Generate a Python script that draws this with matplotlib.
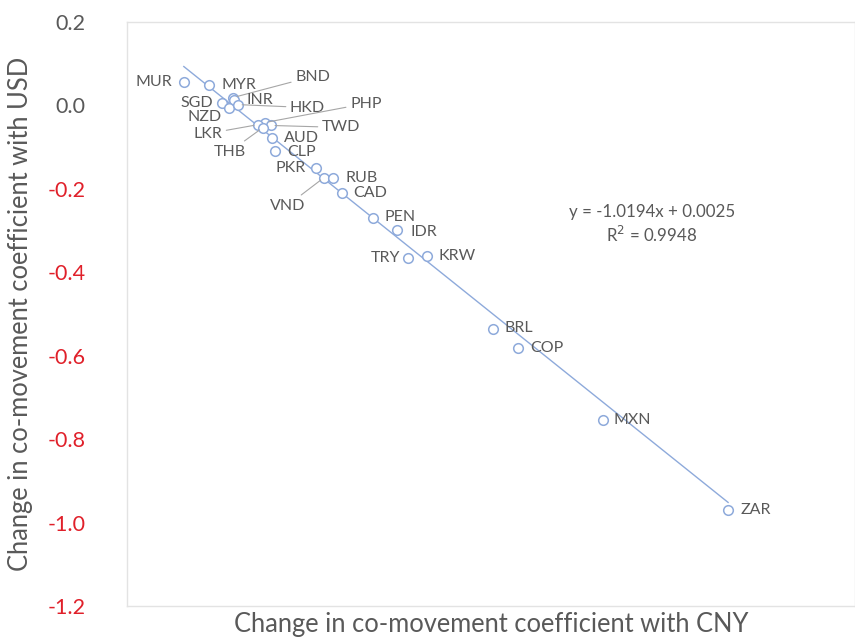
import matplotlib
matplotlib.use("Agg")
import matplotlib.pyplot as plt
import numpy as np

# Currency codes and their co-movement changes (CNY on x, USD on y)
currencies = ["MUR", "MYR", "BND", "SGD", "INR", "NZD", "HKD", "PHP", "TWD", "LKR",
              "THB", "AUD", "CLP", "PKR", "VND", "RUB", "CAD", "PEN", "IDR", "TRY",
              "KRW", "BRL", "COP", "MXN", "ZAR"]
chg_cny = [-0.089, -0.041, 0.004, -0.017, 0.006, -0.004, 0.013, 0.064, 0.075, 0.051,
           0.060, 0.077, 0.083, 0.160, 0.175, 0.192, 0.209, 0.267, 0.313, 0.333,
           0.369, 0.493, 0.540, 0.701, 0.936]
chg_usd = [0.055, 0.050, 0.019, 0.005, 0.012, -0.005, 0.002, -0.041, -0.048, -0.046,
           -0.053, -0.079, -0.110, -0.151, -0.173, -0.173, -0.211, -0.271, -0.298, -0.365,
           -0.360, -0.535, -0.581, -0.754, -0.970]

# Linear trend reported on the chart
slope = -1.0194
intercept = 0.0025
r_squared = 0.9948

y_ticks = [0.2, 0.0, -0.2, -0.4, -0.6, -0.8, -1.0, -1.2]

# Label placement: (dx, dy) offset in pixels, horizontal alignment, leader line
label_layout = {
    "MUR": (-12, 0, "right", False),
    "MYR": (12, 0, "left", False),
    "BND": (62, 21, "left", True),
    "SGD": (-9, 0, "right", False),
    "INR": (12, 0, "left", False),
    "NZD": (-7, -9, "right", False),
    "HKD": (52, -3, "left", True),
    "PHP": (85, 19, "left", True),
    "TWD": (51, -2, "left", True),
    "LKR": (-36, -9, "right", True),
    "THB": (-17, -24, "right", True),
    "AUD": (12, 0, "left", False),
    "CLP": (12, -1, "left", False),
    "PKR": (-10, 0, "right", False),
    "VND": (-19, -28, "right", True),
    "RUB": (12, 0, "left", False),
    "CAD": (11, 0, "left", False),
    "PEN": (12, 1, "left", False),
    "IDR": (13, -2, "left", False),
    "TRY": (-8, 0, "right", False),
    "KRW": (11, 0, "left", False),
    "BRL": (12, 1, "left", False),
    "COP": (12, 0, "left", False),
    "MXN": (10, 0, "left", False),
    "ZAR": (12, 0, "left", False),
}

FONT = "Lato"
GRAY = "#595959"
RED = "#e0202a"
BLUE = "#8eaadb"

fig = plt.figure(figsize=(8.55, 6.41), dpi=100)
ax = fig.add_axes([127 / 855, 35 / 641, 728 / 855, 584 / 641])

ax.set_xlim(-0.196, 1.175)
ax.set_ylim(-1.2, 0.2)

# Trend line over the data range
xs = np.array([min(chg_cny), max(chg_cny)])
ax.plot(xs, slope * xs + intercept, color=BLUE, lw=1.0, zorder=2)

ax.scatter(chg_cny, chg_usd, s=48, facecolors="white", edgecolors=BLUE,
           linewidths=1.1, zorder=3)

for name, x, y in zip(currencies, chg_cny, chg_usd):
    dx, dy, ha, leader = label_layout[name]
    arrow = dict(arrowstyle="-", color="#a6a6a6", lw=0.8, shrinkA=1, shrinkB=3) if leader else None
    ax.annotate(name, xy=(x, y), xytext=(dx, dy), textcoords="offset pixels",
                ha=ha, va="center", fontsize=11.5, color=GRAY, family=FONT,
                arrowprops=arrow, zorder=4)

ax.text(0.793, -0.286, f"y = {slope:.4f}x + {intercept:.4f}\nR$^2$ = {r_squared:.4f}",
        ha="center", va="center", fontsize=12.2, color=GRAY, family=FONT,
        linespacing=1.3)

ax.set_yticks(y_ticks)
ax.set_yticklabels([f"{v:.1f}" for v in y_ticks], family=FONT, fontsize=15.5)
for lbl, v in zip(ax.get_yticklabels(), y_ticks):
    lbl.set_color(RED if v < 0 else GRAY)
ax.set_xticks([])
ax.tick_params(axis="y", length=0, pad=30)

for side in ["left", "top", "bottom", "right"]:
    ax.spines[side].set_color("#e3e3e3")
    ax.spines[side].set_linewidth(1.0)

ax.set_xlabel("Change in co-movement coefficient with CNY", family=FONT,
              fontsize=18.4, color=GRAY, labelpad=4)
ax.set_ylabel("Change in co-movement coefficient with USD", family=FONT,
              fontsize=18.4, color=GRAY, labelpad=10)

fig.savefig("out.png", dpi=100)
